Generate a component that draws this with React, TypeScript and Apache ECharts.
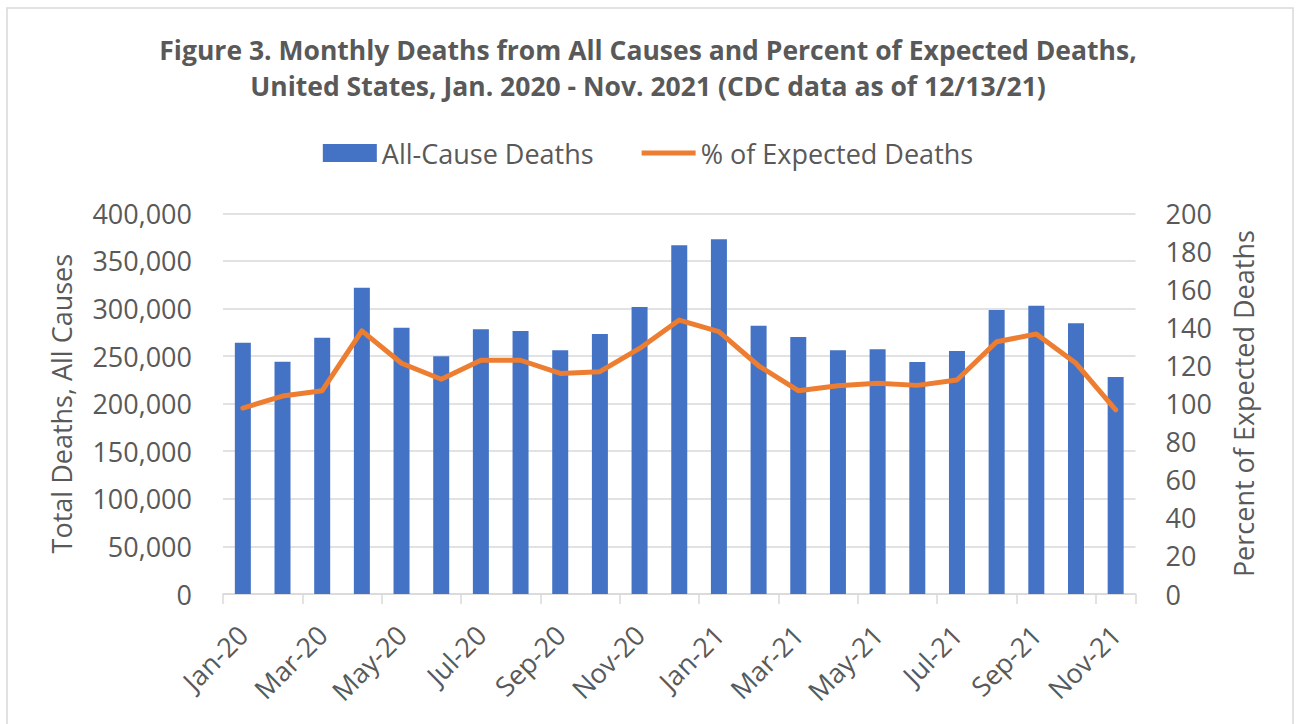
import React, { useEffect, useRef } from "react";
import * as echarts from "echarts";

const months = [
  "Jan-20", "Feb-20", "Mar-20", "Apr-20", "May-20", "Jun-20", "Jul-20", "Aug-20",
  "Sep-20", "Oct-20", "Nov-20", "Dec-20", "Jan-21", "Feb-21", "Mar-21", "Apr-21",
  "May-21", "Jun-21", "Jul-21", "Aug-21", "Sep-21", "Oct-21", "Nov-21",
];

const allCauseDeaths = [
  264000, 244100, 269300, 321800, 279800, 249700, 278100, 276300, 256000, 273200,
  301500, 366400, 372700, 281900, 270000, 256000, 257100, 243800, 255300, 298400,
  302900, 284400, 228000,
];

const pctExpected = [
  97.7, 104.0, 106.8, 138.2, 121.2, 112.8, 122.8, 122.8, 115.9, 116.8,
  129.0, 143.9, 137.8, 119.9, 106.8, 109.4, 110.7, 109.6, 112.4, 132.5,
  136.6, 121.2, 96.7,
];

const titleLines = [
  "Figure 3. Monthly Deaths from All Causes and Percent of Expected Deaths,",
  "United States, Jan. 2020 - Nov. 2021 (CDC data as of 12/13/21)",
];

const FONT = "'Open Sans', 'Noto Sans', sans-serif";
const TXT = "#595959";
const GRID = "#d9d9d9";

export default function App() {
  const ref = useRef<HTMLDivElement>(null);

  useEffect(() => {
    if (!ref.current) return;
    const chart = echarts.init(ref.current, undefined, { renderer: "svg" });
    chart.setOption({
      animation: false,
      backgroundColor: "#ffffff",
      textStyle: { fontFamily: FONT },
      graphic: [
        {
          type: "rect",
          shape: { x: 7, y: 8, width: 1286, height: 730 },
          style: { fill: "none", stroke: GRID, lineWidth: 1.5 },
          silent: true,
        },
      ],
      title: {
        text: titleLines.join("\n"),
        left: "center",
        top: 27,
        textStyle: {
          fontFamily: FONT,
          fontSize: 26.5,
          fontWeight: "bold",
          color: TXT,
          lineHeight: 36,
        },
      },
      legend: {
        top: 133,
        left: "center",
        itemWidth: 54,
        itemHeight: 18,
        itemGap: 48,
        textStyle: { fontFamily: FONT, fontSize: 27, color: TXT, lineHeight: 30 },
        data: [
          { name: "All-Cause Deaths", icon: "rect" },
          { name: "% of Expected Deaths", icon: "path://M0 0H54V5H0Z" },
        ],
      },
      grid: { left: 223, right: 160.5, top: 213.3, bottom: 130, containLabel: false },
      xAxis: {
        type: "category",
        data: months,
        boundaryGap: true,
        axisLine: { show: true, lineStyle: { color: GRID, width: 1.5 } },
        axisTick: { show: true, interval: 1, length: 10, lineStyle: { color: GRID, width: 1.5 } },
        axisLabel: {
          interval: 1,
          rotate: 45,
          margin: 36,
          fontFamily: FONT,
          fontSize: 27,
          color: TXT,
        },
        splitLine: { show: false },
      },
      yAxis: [
        {
          type: "value",
          min: 0,
          max: 400000,
          interval: 50000,
          name: "Total Deaths, All Causes",
          nameLocation: "middle",
          nameGap: 148,
          nameTextStyle: { fontFamily: FONT, fontSize: 27, color: TXT },
          axisLine: { show: false },
          axisTick: { show: false },
          axisLabel: {
            margin: 31,
            fontFamily: FONT,
            fontSize: 27,
            color: TXT,
            formatter: (v: number) => v.toLocaleString("en-US"),
          },
          splitLine: { show: true, lineStyle: { color: GRID, width: 1.5 } },
        },
        {
          type: "value",
          min: 0,
          max: 200,
          interval: 20,
          position: "right",
          name: "Percent of Expected Deaths",
          nameLocation: "middle",
          nameGap: 94,
          nameTextStyle: { fontFamily: FONT, fontSize: 27, color: TXT },
          axisLine: { show: false },
          axisTick: { show: false },
          axisLabel: { margin: 30, fontFamily: FONT, fontSize: 27, color: TXT },
          splitLine: { show: false },
        },
      ],
      series: [
        {
          name: "All-Cause Deaths",
          type: "bar",
          data: allCauseDeaths,
          yAxisIndex: 0,
          barWidth: 16,
          itemStyle: { color: "#4472C4" },
        },
        {
          name: "% of Expected Deaths",
          type: "line",
          data: pctExpected,
          yAxisIndex: 1,
          symbol: "none",
          lineStyle: { color: "#ED7D31", width: 5, cap: "round", join: "round" },
          itemStyle: { color: "#ED7D31" },
        },
      ],
    });
    return () => chart.dispose();
  }, []);

  return (
    <div
      ref={ref}
      style={{ position: "absolute", left: 0, top: 0, width: 1296, height: 724 }}
    />
  );
}
